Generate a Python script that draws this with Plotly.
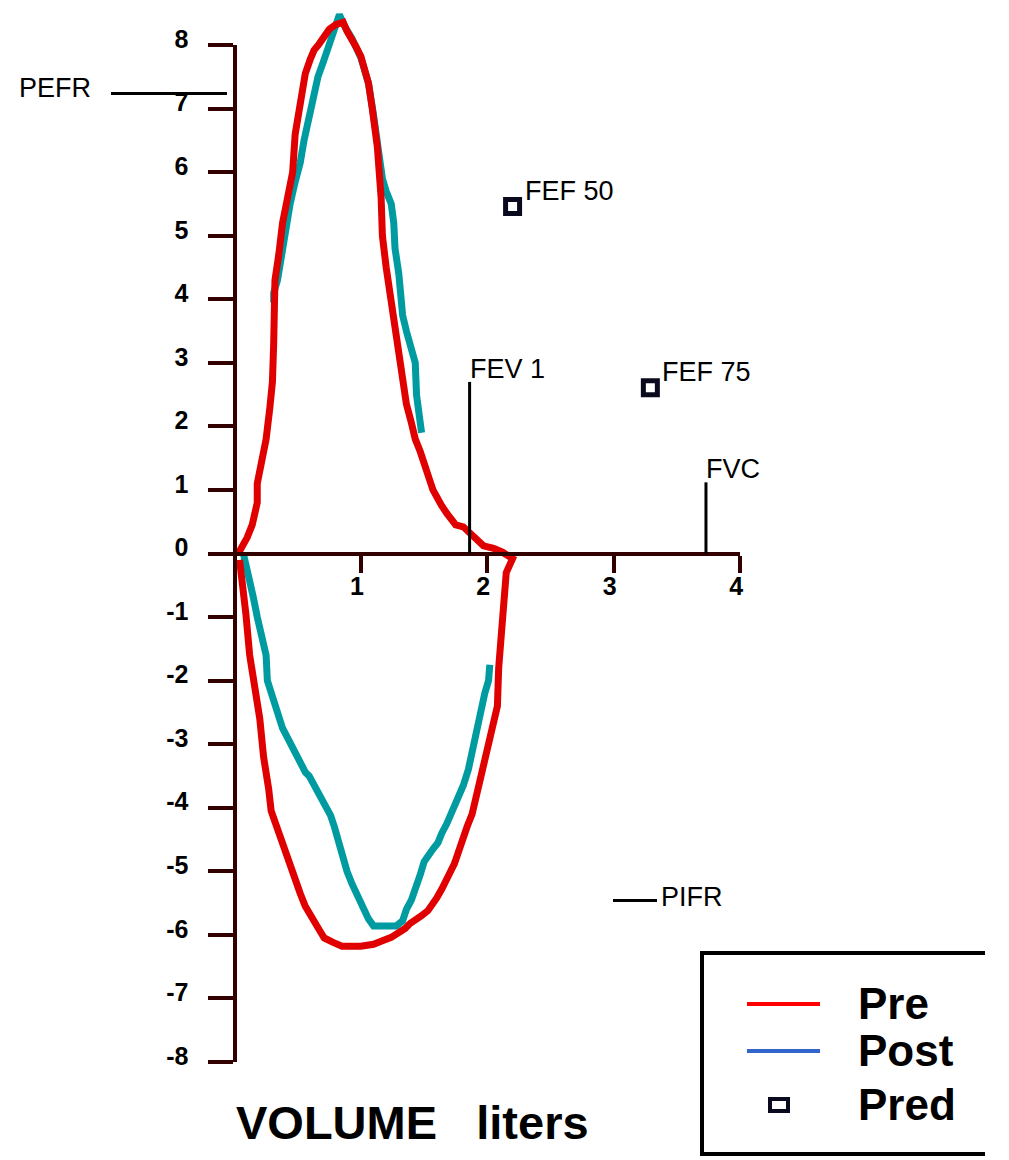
import plotly.graph_objects as go

# ---------------- data (volume in litres, flow in L/s) ----------------
pre_vol = [0.03, 0.06, 0.10, 0.14, 0.18, 0.18, 0.21, 0.25, 0.28, 0.30, 0.31, 0.31, 0.32, 0.35, 0.38,
           0.42, 0.46, 0.48, 0.52, 0.56, 0.60, 0.63, 0.67, 0.71, 0.75, 0.80, 0.86, 0.89, 0.93, 0.96,
           1.00, 1.03, 1.06, 1.09, 1.13, 1.16, 1.17, 1.20, 1.23, 1.24, 1.27, 1.30, 1.33, 1.36, 1.40,
           1.43, 1.47, 1.50, 1.54, 1.57, 1.60, 1.64, 1.68, 1.71, 1.75, 1.81, 1.86, 1.92, 1.97, 2.05,
           2.12, 2.20,
           2.15, 2.13, 2.11, 2.09, 2.08, 2.05, 2.02, 1.98, 1.95, 1.92, 1.88, 1.84, 1.81, 1.78, 1.74,
           1.71, 1.68, 1.64, 1.60, 1.57, 1.53, 1.48, 1.43, 1.39, 1.35, 1.30, 1.24, 1.16, 1.10, 1.00,
           0.85, 0.78, 0.71, 0.67, 0.63, 0.60, 0.56, 0.52, 0.48, 0.45, 0.42, 0.39, 0.36, 0.32, 0.29,
           0.27, 0.23, 0.20, 0.16, 0.12, 0.09, 0.06, 0.04]
pre_flow = [0.0, 0.1, 0.25, 0.45, 0.8, 1.1, 1.35, 1.8, 2.3, 2.7, 3.3, 3.9, 4.3, 4.7, 5.2,
            5.6, 6.0, 6.6, 7.1, 7.55, 7.78, 7.92, 8.02, 8.15, 8.25, 8.32, 8.36, 8.22, 8.1, 7.98,
            7.82, 7.65, 7.4, 7.0, 6.4, 5.6, 5.0, 4.5, 4.1, 3.8, 3.4, 3.0, 2.7, 2.35, 2.05,
            1.8, 1.6, 1.38, 1.18, 1.0, 0.88, 0.75, 0.63, 0.53, 0.45, 0.42, 0.33, 0.2, 0.12, 0.08,
            0.02, -0.08,
            -0.3, -0.8, -1.2, -1.8, -2.4, -2.65, -3.0, -3.35, -3.6, -3.85, -4.1, -4.3, -4.5, -4.7, -4.88,
            -5.0, -5.15, -5.28, -5.42, -5.52, -5.62, -5.7, -5.75, -5.82, -5.9, -5.96, -6.04, -6.1, -6.15, -6.18,
            -6.18, -6.12, -6.05, -5.92, -5.8, -5.7, -5.55, -5.35, -5.12, -4.92, -4.72, -4.56, -4.42, -4.22, -4.05,
            -3.7, -3.2, -2.6, -2.1, -1.6, -0.95, -0.45, -0.1]

post_vol = [0.31, 0.31, 0.34, 0.37, 0.40, 0.44, 0.48, 0.52, 0.55, 0.59, 0.63, 0.66, 0.70, 0.73, 0.77,
            0.80, 0.83, 0.87, 0.93, 1.00, 1.06, 1.10, 1.14, 1.17, 1.20, 1.24, 1.26, 1.27, 1.30, 1.31,
            1.33, 1.36, 1.39, 1.43, 1.44, 1.46, 1.48,
            None,
            2.02, 2.01, 1.98, 1.95, 1.91, 1.88, 1.85, 1.81, 1.78, 1.74, 1.71, 1.68, 1.64, 1.61, 1.57,
            1.54, 1.50, 1.47, 1.43, 1.40, 1.36, 1.33, 1.28, 1.20, 1.10, 1.06, 1.03, 0.99, 0.96, 0.93,
            0.89, 0.86, 0.83, 0.79, 0.76, 0.72, 0.69, 0.66, 0.63, 0.59, 0.56, 0.52, 0.48, 0.45, 0.42,
            0.38, 0.35, 0.32, 0.29, 0.26, 0.25, 0.21, 0.18, 0.15, 0.12, 0.09, 0.07]
post_flow = [3.95, 4.1, 4.3, 4.7, 5.15, 5.5, 5.85, 6.15, 6.5, 6.85, 7.2, 7.5, 7.72, 7.9, 8.12,
             8.3, 8.48, 8.3, 8.1, 7.8, 7.4, 6.9, 6.3, 5.9, 5.7, 5.5, 5.2, 4.8, 4.4, 4.05,
             3.75, 3.5, 3.25, 3.0, 2.5, 2.15, 1.9,
             None,
             -1.75, -2.0, -2.2, -2.5, -2.85, -3.1, -3.4, -3.65, -3.8, -3.95, -4.1, -4.25, -4.4, -4.55, -4.65,
             -4.75, -4.85, -5.05, -5.3, -5.45, -5.6, -5.78, -5.86, -5.86, -5.86, -5.75, -5.62, -5.5, -5.35, -5.2,
             -5.0, -4.77, -4.55, -4.3, -4.12, -3.97, -3.9, -3.76, -3.62, -3.5, -3.44, -3.3, -3.12, -3.0, -2.9,
             -2.75, -2.55, -2.33, -2.2, -2.0, -1.6, -1.3, -1.0, -0.7, -0.4, -0.15, 0.0]

pred_names = ["FEF 50", "FEF 75"]
pred_vol = [2.20, 3.29]
pred_flow = [5.46, 2.61]

vol_marks = ["FEV 1", "FVC"]
vol_mark_x = [1.86, 3.73]
vol_mark_top = [2.70, 1.12]

pefr_pred = 7.24
pifr_pred = -5.46

x_ticks = [1, 2, 3, 4]
x_tick_text = ["1", "2", "3", "4"]
y_ticks = list(range(-8, 9))
y_tick_text = [str(v) for v in y_ticks]

legend_names = ["Pre", "Post", "Pred"]
legend_colors = ["#ff0000", "#3366cc", "#0a0a1e"]

# ---------------- geometry helpers (page pixels) ----------------
OFF = 8                      # page body margin
W, H = 1009 - OFF, 1160 - OFF
X0_PX, X_PER = 234.5, 126.4
Y0_PX, Y_PER = 553.5, 63.55


def vx(px):
    return (px - X0_PX) / X_PER


def vy(py):
    return (Y0_PX - py) / Y_PER


def fx(px):
    return (px - OFF) / W


def fy(py):
    return 1 - (py - OFF) / H


AX = "#330000"
RED = "#e00000"
TEAL = "#009ba1"
FONT = "Liberation Sans, Arial, sans-serif"

fig = go.Figure()

fig.add_trace(go.Scatter(x=post_vol, y=post_flow, mode="lines", name="Post",
                         line=dict(color=TEAL, width=7), showlegend=False,
                         connectgaps=False, xaxis="x", yaxis="y"))
fig.add_trace(go.Scatter(x=pre_vol, y=pre_flow, mode="lines", name="Pre",
                         line=dict(color=RED, width=7), showlegend=False,
                         xaxis="x", yaxis="y"))

# predicted points on the visible axes subplot
fig.add_trace(go.Scatter(x=pred_vol, y=pred_flow, mode="markers", name="Pred",
                         marker=dict(symbol="square-open", size=14,
                                     line=dict(color="#0a0a1e", width=5), color="#0a0a1e"),
                         cliponaxis=False, showlegend=False, xaxis="x2", yaxis="y2"))

shapes = []
annotations = []

# FEV1 / FVC markers
for name, xv, top in zip(vol_marks, vol_mark_x, vol_mark_top):
    shapes.append(dict(type="line", xref="x", yref="y", x0=xv, x1=xv, y0=0, y1=top,
                       line=dict(color="black", width=3)))
    annotations.append(dict(x=xv, y=top, xref="x", yref="y", text=name, showarrow=False,
                            xanchor="left", yanchor="bottom", xshift=-2, yshift=-4,
                            font=dict(family=FONT, size=27, color="black")))

for name, xv, yv in zip(pred_names, pred_vol, pred_flow):
    annotations.append(dict(x=xv, y=yv, xref="x", yref="y", text=name, showarrow=False,
                            xanchor="left", yanchor="middle", xshift=10, yshift=16,
                            font=dict(family=FONT, size=27, color="black")))

# PEFR / PIFR reference marks
shapes.append(dict(type="line", xref="paper", yref="y", x0=fx(111), x1=fx(227),
                   y0=pefr_pred, y1=pefr_pred, line=dict(color="black", width=3)))
annotations.append(dict(x=fx(17), y=pefr_pred, xref="paper", yref="y", text="PEFR",
                        showarrow=False, xanchor="left", yanchor="middle", yshift=5,
                        font=dict(family=FONT, size=27, color="black")))
shapes.append(dict(type="line", xref="paper", yref="y", x0=fx(613), x1=fx(657),
                   y0=pifr_pred, y1=pifr_pred, line=dict(color="black", width=3)))
annotations.append(dict(x=fx(659), y=pifr_pred, xref="paper", yref="y", text="PIFR",
                        showarrow=False, xanchor="left", yanchor="middle", yshift=3,
                        font=dict(family=FONT, size=27, color="black")))

# axis title
annotations.append(dict(x=fx(234), y=fy(1122), xref="paper", yref="paper",
                        text="VOLUME\u00a0\u00a0\u00a0liters", showarrow=False,
                        xanchor="left", yanchor="middle",
                        font=dict(family=FONT, size=47, color="black", weight="bold")))

# manual legend (frame is open on the right: it runs off the picture)
frame = dict(color="black", width=4)
shapes.append(dict(type="path", xref="paper", yref="paper",
                   path="M {r},{t} L {l},{t} L {l},{b} L {r},{b}".format(
                       l=fx(702), r=fx(985), t=fy(953), b=fy(1154)),
                   line=frame, fillcolor="rgba(0,0,0,0)"))
leg_y = [1004, 1051, 1105]
for i, (nm, col) in enumerate(zip(legend_names, legend_colors)):
    if i < 2:
        shapes.append(dict(type="line", xref="paper", yref="paper", x0=fx(747), x1=fx(820),
                           y0=fy(leg_y[i]), y1=fy(leg_y[i]), line=dict(color=col, width=4)))
    else:
        shapes.append(dict(type="rect", xref="paper", yref="paper", x0=fx(770), x1=fx(788),
                           y0=fy(leg_y[i] + 6), y1=fy(leg_y[i] - 6),
                           line=dict(color=col, width=4), fillcolor="rgba(0,0,0,0)"))
    annotations.append(dict(x=fx(856), y=fy(leg_y[i] - 1), xref="paper", yref="paper", text=nm,
                            showarrow=False, xanchor="left", yanchor="middle",
                            font=dict(family=FONT, size=44, color="black", weight="bold")))

fig.update_layout(
    template="none",
    width=W, height=H,
    margin=dict(l=0, r=0, t=0, b=0, pad=0, autoexpand=False),
    paper_bgcolor="white", plot_bgcolor="rgba(0,0,0,0)",
    showlegend=False,
    xaxis=dict(domain=[0, 1], range=[vx(OFF), vx(OFF + W)], visible=False, fixedrange=True,
               automargin=False),
    yaxis=dict(domain=[0, 1], range=[vy(OFF + H), vy(OFF)], visible=False, fixedrange=True,
               automargin=False),
    xaxis2=dict(domain=[fx(X0_PX), fx(X0_PX + 4 * X_PER)], range=[0, 4], anchor="free",
                position=fy(Y0_PX), showline=True, linecolor=AX, linewidth=4,
                ticks="outside", ticklen=17, tickwidth=4, tickcolor=AX,
                tickvals=x_ticks, ticktext=x_tick_text, showgrid=False, zeroline=False,
                ticklabelshift=-4, ticklabelstandoff=-8, automargin=False, fixedrange=True,
                tickfont=dict(family=FONT, size=25, color="black", weight="bold")),
    yaxis2=dict(domain=[fy(Y0_PX + 8 * Y_PER), fy(Y0_PX - 8 * Y_PER)], range=[-8, 8],
                anchor="free", position=fx(X0_PX), showline=True, linecolor=AX, linewidth=4,
                ticks="outside", ticklen=25, tickwidth=4, tickcolor=AX,
                tickvals=y_ticks, ticktext=y_tick_text, showgrid=False, zeroline=False,
                ticklabelshift=-6, ticklabelstandoff=14, automargin=False, fixedrange=True,
                tickfont=dict(family=FONT, size=25, color="black", weight="bold")),
    shapes=shapes,
    annotations=annotations,
)

fig.write_html("out.html")
